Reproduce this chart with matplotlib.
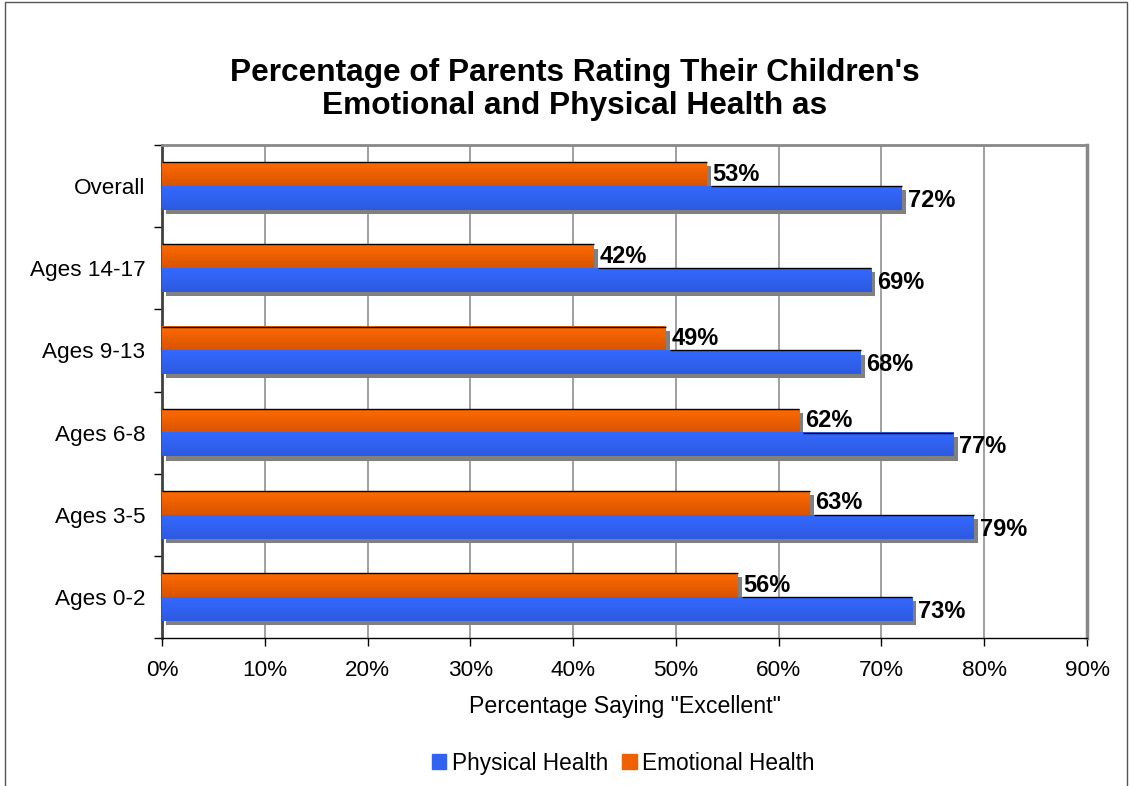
import matplotlib.pyplot as plt
import matplotlib.patheffects as pe
from matplotlib.patches import Rectangle
from matplotlib.colors import LinearSegmentedColormap
import numpy as np

plt.rcParams['font.family'] = ['Liberation Sans', 'DejaVu Sans']

# data, bottom to top as drawn
categories = ['Ages 0-2', 'Ages 3-5', 'Ages 6-8', 'Ages 9-13', 'Ages 14-17', 'Overall']
physical = [73, 79, 77, 68, 69, 72]
emotional = [56, 63, 62, 49, 42, 53]
xticks = [0, 10, 20, 30, 40, 50, 60, 70, 80, 90]

blue = '#3163F0'
orange = '#F06000'
blue_grad = LinearSegmentedColormap.from_list('b', ['#2D5AE0', '#3468FF'])
orange_grad = LinearSegmentedColormap.from_list('o', ['#D85400', '#FF6A00'])

fig = plt.figure(figsize=(11.29, 7.86), dpi=100)
ax = fig.add_axes([0.1435, 0.1883, 0.8193, 0.6272])

y = np.arange(len(categories))
h = 0.29
shadow = [pe.SimplePatchShadow(offset=(3, -3), shadow_rgbFace='#808080', alpha=1), pe.Normal()]
grad = np.linspace(0, 1, 50).reshape(-1, 1)


def draw_bars(ys, vals, color, cmap, z):
    bars = ax.barh(ys, vals, height=h, color=color, zorder=z)
    for b, yy, v in zip(bars, ys, vals):
        b.set_path_effects(shadow)
        ax.imshow(grad, extent=[0, v, yy - h / 2, yy + h / 2], origin='lower',
                  aspect='auto', cmap=cmap, zorder=z + 0.1, interpolation='bilinear')


# orange first so the blue bars cover its shadow
draw_bars(y + h / 2, emotional, orange, orange_grad, 3)
draw_bars(y - h / 2, physical, blue, blue_grad, 4)

# thin black line on top of each bar
ax.hlines(y + h, 0, emotional, color='black', lw=1, zorder=5)
ax.hlines(y, np.array(emotional) + 0.4, physical, color='black', lw=1, zorder=5)

for yi, v in zip(y, emotional):
    ax.text(v + 0.55, yi + h / 2, f'{v}%', va='center', ha='left',
            fontsize=17, fontweight='bold', zorder=6)
for yi, v in zip(y, physical):
    ax.text(v + 0.55, yi - h / 2 - 0.03, f'{v}%', va='center', ha='left',
            fontsize=17, fontweight='bold', zorder=6)

ax.set_xlim(0, 90)
ax.set_ylim(-0.5, len(categories) - 0.5)
ax.set_xticks(xticks)
ax.set_xticklabels([f'{t}%' for t in xticks], fontsize=16.2)
ax.set_yticks(y)
ax.set_yticklabels(categories, fontsize=16.2)
ax.tick_params(axis='y', length=0, pad=12)
ax.set_yticks(np.arange(len(categories) + 1) - 0.5, minor=True)
ax.tick_params(axis='y', which='minor', length=6, width=1, color='black')
ax.tick_params(axis='x', length=6, width=1, pad=10)

ax.grid(axis='x', color='#999999', lw=1.3, zorder=0)
ax.set_axisbelow(True)

ax.spines['left'].set_color('#404040')
ax.spines['left'].set_linewidth(2)
ax.spines['bottom'].set_color('black')
ax.spines['bottom'].set_linewidth(1)
ax.spines['top'].set_color('#888888')
ax.spines['top'].set_linewidth(2)
ax.spines['right'].set_color('#888888')
ax.spines['right'].set_linewidth(2.5)

ax.set_xlabel('Percentage Saying "Excellent"', fontsize=16.7, labelpad=10)

fig.text(0.509, 0.886, "Percentage of Parents Rating Their Children's\nEmotional and Physical Health as",
         ha='center', va='center', fontsize=22.8, fontweight='bold', linespacing=1.1)

handles = [Rectangle((0, 0), 1, 1, color=blue), Rectangle((0, 0), 1, 1, color=orange)]
fig.legend(handles, ['Physical Health', 'Emotional Health'], loc='center',
           bbox_to_anchor=(0.552, 0.029), ncol=2, frameon=False, fontsize=16.3,
           handlelength=0.65, handleheight=0.65, handletextpad=0.25, columnspacing=0.6)

# outer chart border
fig.patches.append(Rectangle((0.0045, -0.01), 0.994, 1.0075, transform=fig.transFigure,
                             fill=False, edgecolor='#555555', lw=1))

fig.savefig('out.png', dpi=100)
